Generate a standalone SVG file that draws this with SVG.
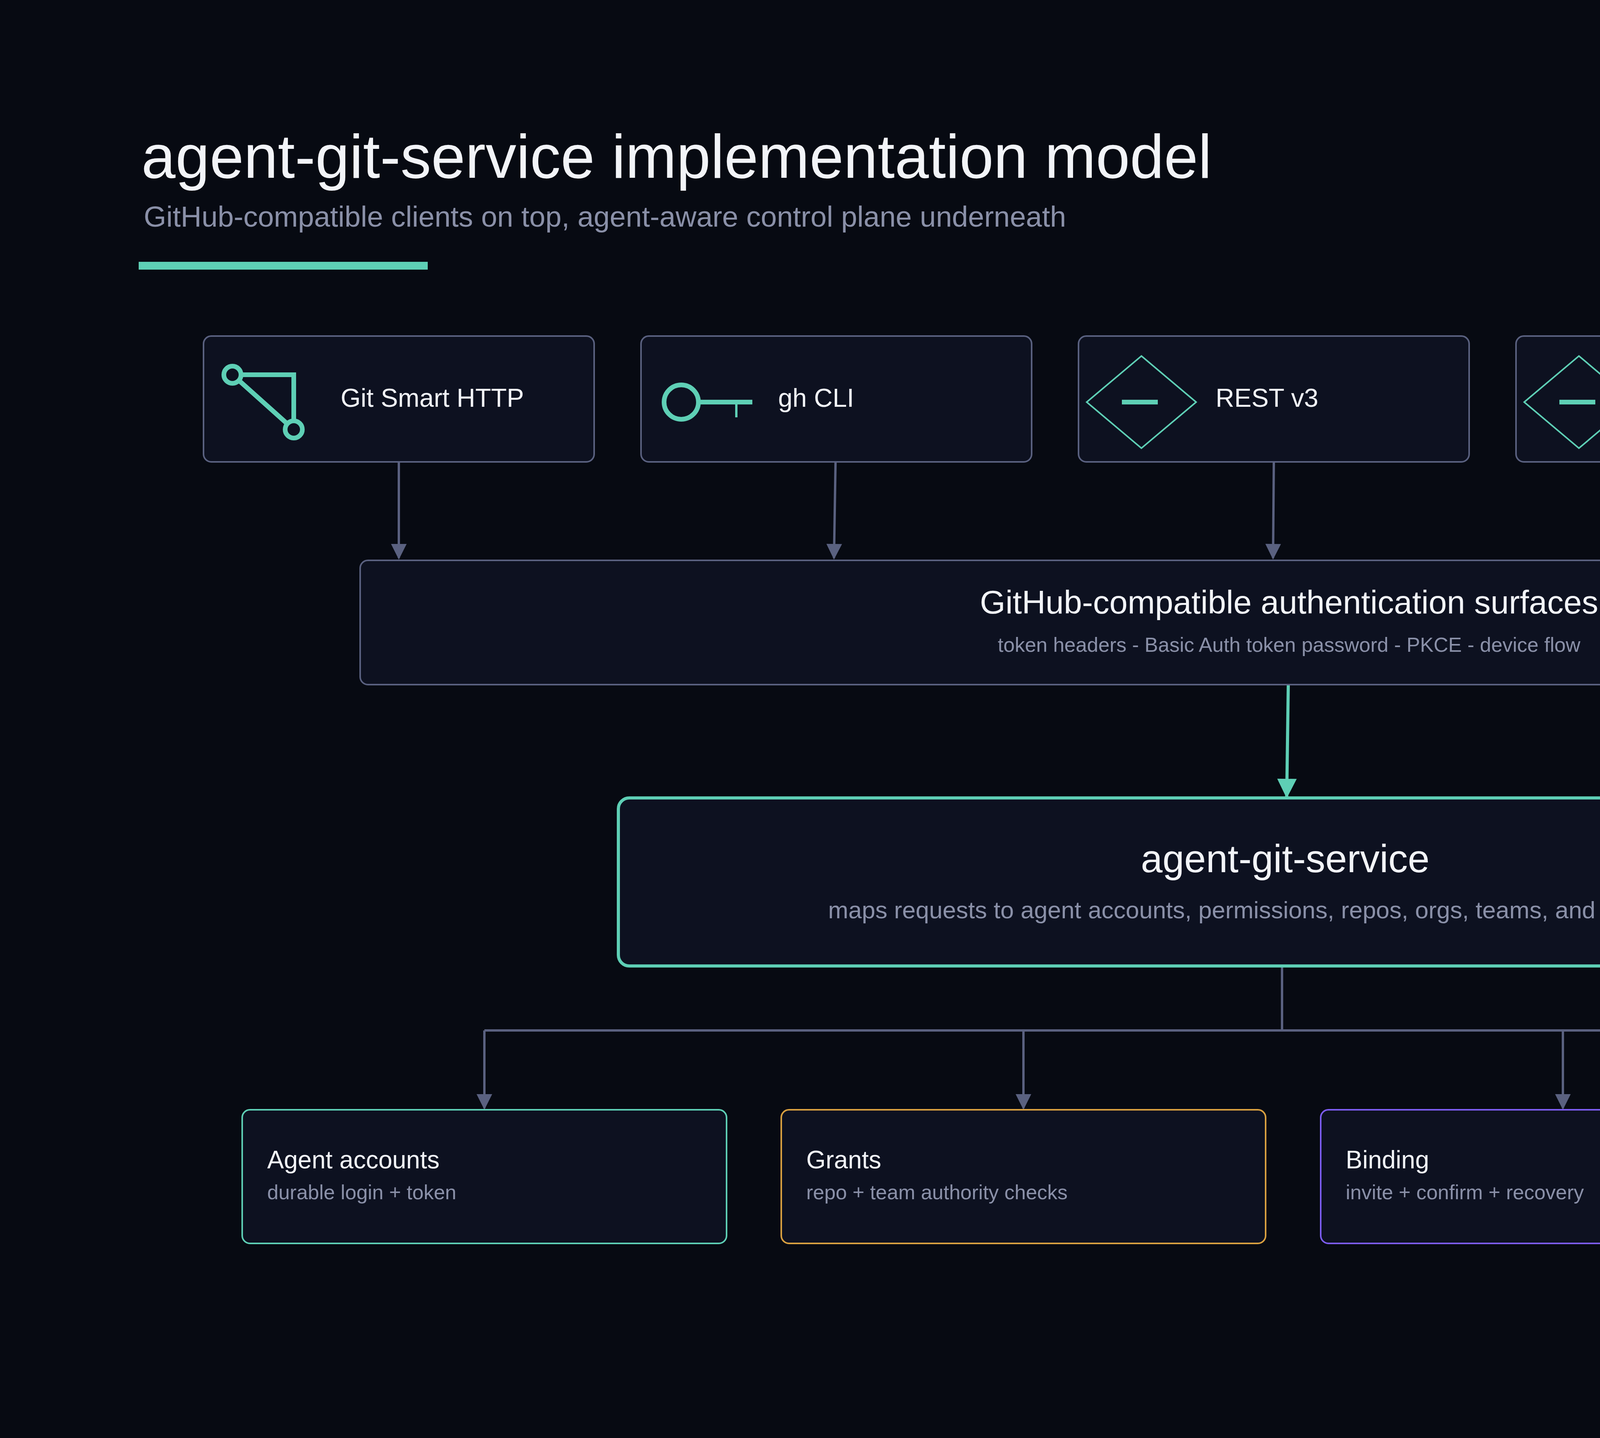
<svg xmlns="http://www.w3.org/2000/svg" width="6480" height="3680" viewBox="0 0 6480 3680">
<style>
text{font-family:"Helvetica Neue","Liberation Sans",Arial,sans-serif}
.box{fill:#0d1120;stroke:#5a6180;stroke-width:4}
.lbl{fill:#f2f4f8;font-size:66px}
.ic{fill:none;stroke:#5ecfb5;stroke-width:12}
.con{fill:none;stroke:#5a6180;stroke-width:6}
.bt{fill:#f2f4f8;font-size:64px}
.bs{fill:#8a90a8;font-size:52px}
</style>
<defs>
<marker id="ag" viewBox="0 0 10 10" refX="9" refY="5" markerWidth="44" markerHeight="40" markerUnits="userSpaceOnUse" orient="auto"><path d="M0 0L10 5L0 10z" fill="#5a6180"/></marker>
<marker id="agr" viewBox="0 0 10 10" refX="9" refY="5" markerWidth="56" markerHeight="50" markerUnits="userSpaceOnUse" orient="auto"><path d="M0 0L10 5L0 10z" fill="#5ecfb5"/></marker>
</defs>
<rect width="6480" height="3680" fill="#070a12"/>
<text x="362" y="455" font-size="157" fill="#f2f4f8">agent-git-service implementation model</text>
<text x="368" y="580" font-size="74" fill="#8a90a8">GitHub-compatible clients on top, agent-aware control plane underneath</text>
<rect x="355" y="670" width="740" height="20" fill="#5ecfb5"/>
<g id="connectors">
<line class="con" x1="1021" y1="1182" x2="1021" y2="1428" marker-end="url(#ag)"/>
<line class="con" x1="2139" y1="1182" x2="2135" y2="1428" marker-end="url(#ag)"/>
<line class="con" x1="3261" y1="1182" x2="3259" y2="1428" marker-end="url(#ag)"/>
<line class="con" x1="4381" y1="1182" x2="4381" y2="1428" marker-end="url(#ag)"/>
<line class="con" x1="5501" y1="1182" x2="5501" y2="1428" marker-end="url(#ag)"/>
<line x1="3298" y1="1752" x2="3294" y2="2038" stroke="#5ecfb5" stroke-width="8" marker-end="url(#agr)"/>
<path class="con" d="M3282 2472V2637M1240 2637H5344"/>
<line class="con" x1="1240" y1="2637" x2="1240" y2="2836" marker-end="url(#ag)"/>
<line class="con" x1="2620" y1="2637" x2="2620" y2="2836" marker-end="url(#ag)"/>
<line class="con" x1="4001" y1="2637" x2="4001" y2="2836" marker-end="url(#ag)"/>
<line class="con" x1="5344" y1="2637" x2="5352" y2="2836" marker-end="url(#ag)"/>
</g>
<g id="git-http"><rect class="box" x="521" y="860" width="1000" height="322" rx="20"/>
<circle class="ic" cx="595" cy="959" r="22"/><circle class="ic" cx="752" cy="1099" r="22"/>
<path class="ic" d="M612 974L736 1085M617 959H752V1077"/>
<text class="lbl" x="872" y="1041">Git Smart HTTP</text></g>
<g id="gh-cli"><rect class="box" x="1641" y="860" width="1000" height="322" rx="20"/>
<circle class="ic" cx="1744" cy="1029" r="44"/><path class="ic" d="M1788 1029H1926"/><path d="M1885 1029V1068" stroke="#5ecfb5" stroke-width="6"/>
<text class="lbl" x="1992" y="1041">gh CLI</text></g>
<g id="rest"><rect class="box" x="2761" y="860" width="1000" height="322" rx="20"/>
<path d="M2922 911L3062 1029L2922 1147L2782 1029Z" fill="none" stroke="#5ecfb5" stroke-width="4"/><path class="ic" d="M2872 1029H2964"/>
<text class="lbl" x="3112" y="1041">REST v3</text></g>
<g id="graphql"><rect class="box" x="3881" y="860" width="1000" height="322" rx="20"/>
<path d="M4042 911L4182 1029L4042 1147L3902 1029Z" fill="none" stroke="#5ecfb5" stroke-width="4"/><path class="ic" d="M3992 1029H4084"/>
<text class="lbl" x="4232" y="1041">GraphQL v4</text></g>
<g id="oauth"><rect class="box" x="5001" y="860" width="1000" height="322" rx="20"/>
<circle class="ic" cx="5104" cy="1029" r="44"/><path class="ic" d="M5148 1029H5286"/><path d="M5245 1029V1068" stroke="#5ecfb5" stroke-width="6"/>
<text class="lbl" x="5352" y="1041">OAuth device</text></g>
<g id="auth"><rect class="box" x="922" y="1434" width="4761" height="318" rx="20" fill="#111729"/>
<text x="3300" y="1570" font-size="84" fill="#f2f4f8" text-anchor="middle">GitHub-compatible authentication surfaces</text>
<text x="3300" y="1668" font-size="52" fill="#8a90a8" text-anchor="middle">token headers - Basic Auth token password - PKCE - device flow</text></g>
<g id="service"><rect x="1583" y="2042" width="3418" height="430" rx="28" fill="#0d1120" stroke="#5ecfb5" stroke-width="8"/>
<text x="3290" y="2232" font-size="100" fill="#f2f4f8" text-anchor="middle">agent-git-service</text>
<text x="3290" y="2350" font-size="62" fill="#8a90a8" text-anchor="middle">maps requests to agent accounts, permissions, repos, orgs, teams, and audit records</text></g>
<g id="accounts"><rect class="box" x="620" y="2840" width="1240" height="342" rx="20" style="stroke:#5ecfb5"/>
<text class="bt" x="684" y="2990">Agent accounts</text><text class="bs" x="684" y="3069">durable login + token</text></g>
<g id="grants"><rect class="box" x="2000" y="2840" width="1240" height="342" rx="20" style="stroke:#d9a040"/>
<text class="bt" x="2064" y="2990">Grants</text><text class="bs" x="2064" y="3069">repo + team authority checks</text></g>
<g id="binding"><rect class="box" x="3381" y="2840" width="1240" height="342" rx="20" style="stroke:#7c5cf0"/>
<text class="bt" x="3445" y="2990">Binding</text><text class="bs" x="3445" y="3069">invite + confirm + recovery</text></g>
<g id="storage"><rect class="box" x="4741" y="2840" width="1240" height="342" rx="20" style="stroke:#6f8ad8"/>
<text class="bt" x="4805" y="2990">Storage</text><text class="bs" x="4805" y="3069">Git repos + metadata</text></g>
</svg>
